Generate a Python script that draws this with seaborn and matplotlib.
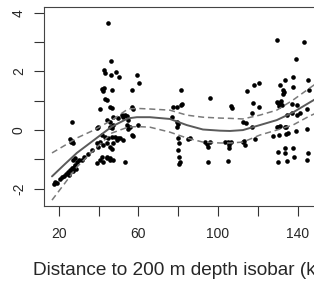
import numpy as np
import pandas as pd
import matplotlib
matplotlib.use("Agg")
import matplotlib.pyplot as plt
import seaborn as sns

# ─────────────────────────────────────────────
#  DATA
# ─────────────────────────────────────────────

# partial residuals
dist_km = [
    # shelf edge cluster
    17.5, 18.0, 19.0, 20.5, 21.5, 22.5, 23.5, 24.5, 25.0, 25.5, 26.5, 27.0,
    27.5, 28.0, 28.5, 29.0, 30.0, 31.6, 32.6, 34.6, 36.6, 27.0, 28.0,
    26.5, 25.5, 26.0, 26.5, 27.0,
    # column around 40-60 km
    44.6, 46.1, 42.6, 43.1, 46.1, 48.6, 50.2, 59.2, 60.2,
    41.6, 42.1, 42.6, 46.6, 56.7, 43.1, 44.1,
    40.6, 45.6, 46.6, 56.7, 57.2,
    44.1, 47.1, 45.6, 49.6,
    39.6, 39.1, 45.6, 46.6, 47.1,
    52.2, 54.2, 51.7, 53.2, 54.7, 54.2, 55.7, 54.7, 59.7,
    56.7, 57.2,
    41.6, 43.1, 44.6, 46.6, 48.1, 49.6, 50.7, 52.2,
    39.1, 40.6, 42.1, 44.1, 45.6, 47.1, 49.1, 39.6, 46.6,
    41.6, 44.1, 45.6,
    39.1, 40.6, 42.1, 44.1, 45.6, 47.1, 53.2,
    # middle
    81.3, 81.8, 77.3, 79.3, 81.3,
    76.8, 79.3, 79.8, 79.3,
    79.8, 80.3, 79.8, 80.3, 80.8, 80.3,
    84.8, 85.8,
    95.9,
    93.4, 94.4, 94.9, 95.9, 94.9,
    106.4, 106.9,
    103.4, 104.9, 105.4, 106.4, 104.9, 105.4,
    113.0, 114.5, 114.0, 112.5,
    112.5, 113.5, 118.5,
    # right side
    129.5, 143.1, 139.1,
    118.0, 120.5,
    131.0, 133.6, 132.6, 133.1, 132.6,
    137.6, 137.6, 145.1, 145.6,
    117.5, 120.5, 117.0,
    129.5, 130.0, 131.0, 132.0, 131.5, 130.5,
    137.1, 139.6, 144.6,
    137.1, 134.6, 139.6, 141.1,
    117.0,
    129.5, 130.0, 131.0, 133.6, 134.1,
    127.5, 130.5, 134.1, 135.1, 139.1, 144.6,
    130.0, 133.6, 133.6, 137.6, 138.1,
    130.0, 134.6, 144.6, 145.1,
]

resid = [
    -1.84, -1.77, -1.81, -1.67, -1.60, -1.57, -1.50, -1.43, -1.54, -1.37, -1.30, -1.40,
    -1.26, -1.19, -1.33, -1.10, -1.02, -1.02, -0.92, -0.82, -0.68, -1.02, -0.96,
    0.27, -0.31, -0.41, -0.36, -0.45,
    3.65, 2.35, 2.05, 1.95, 1.88, 1.98, 1.81, 1.88, 1.60,
    1.40, 1.33, 1.43, 1.37, 1.37, 1.06, 1.02,
    0.72, 0.78, 0.75, 0.78, 0.72,
    0.34, 0.44, 0.27, 0.41,
    0.10, 0.07, 0.10, 0.07, 0.17,
    0.44, 0.48, 0.51, 0.51, 0.34, 0.17, 0.10, 0.03, 0.17,
    -0.17, -0.20,
    -0.17, -0.24, -0.27, -0.24, -0.24, -0.27, -0.27, -0.34,
    -0.44, -0.41, -0.51, -0.44, -0.58, -0.44, -0.34, -0.58, -0.65,
    -0.92, -0.92, -0.96,
    -1.13, -1.02, -1.09, -0.96, -1.02, -1.02, -1.09,
    1.37, 0.89, 0.78, 0.78, 0.85,
    0.44, 0.27, 0.20, 0.10,
    -0.27, -0.44, -0.68, -0.92, -1.09, -1.16,
    -0.31, -0.27,
    1.09,
    -0.41, -0.48, -0.58, -0.41, -1.09,
    0.82, 0.75,
    -0.41, -0.41, -0.51, -0.41, -1.06, -0.61,
    -0.38, 1.33, 0.24, 0.27,
    -0.41, -0.51, -0.31,
    3.07, 3.00, 2.42,
    1.54, 1.60,
    1.54, 1.71, 1.37, 1.30, 1.23,
    1.81, 1.47, 1.71, 1.37,
    0.92, 0.78, 0.58,
    0.96, 0.92, 0.92, 0.85, 0.99, 0.82,
    0.89, 0.85, 0.72,
    0.58, 0.51, 0.51, 0.58,
    0.10,
    0.10, 0.10, 0.14, 0.10, 0.10,
    -0.20, -0.17, -0.14, -0.10, -0.03, 0.03,
    -0.75, -0.61, -0.78, -0.61, -0.92,
    -1.09, -1.06, -1.02, -0.78,
]

# fitted smooth and its confidence band
fit_x     = [16.5, 23.0, 29.0, 37.6, 46.6, 54.7, 59.2, 65.7, 75.8, 84.3,
             92.4, 101.0, 106.0, 112.5, 121.0, 129.5, 137.6, 146.0, 152.0]
fit_mid   = [-1.58, -1.16, -0.78, -0.34, 0.12, 0.40, 0.44, 0.44, 0.38, 0.17,
             0.02, -0.02, -0.03, 0.00, 0.17, 0.34, 0.60, 0.94, 1.18]
fit_upper = [-0.78, -0.52, -0.27, 0.00, 0.34, 0.72, 0.74, 0.72, 0.68, 0.51,
             0.44, 0.41, 0.40, 0.38, 0.51, 0.68, 1.02, 1.43, 1.72]
fit_lower = [-2.39, -1.81, -1.26, -0.68, -0.10, 0.10, 0.12, 0.10, -0.07, -0.27,
             -0.41, -0.44, -0.44, -0.41, -0.17, 0.00, 0.17, 0.48, 0.66]

x_ticks  = [20, 40, 60, 80, 100, 120, 140]
x_labels = ["20", "", "60", "", "100", "", "140"]
y_ticks  = [-2, -1, 0, 1, 2, 3, 4]
y_labels = ["-2", "", "0", "", "2", "", "4"]

# ─────────────────────────────────────────────
#  PLOT
# ─────────────────────────────────────────────

sns.set_style("white")
plt.rcParams["font.family"] = ["Liberation Sans", "DejaVu Sans"]
plt.rcParams["axes.unicode_minus"] = False

pts = pd.DataFrame({"x": dist_km, "y": resid})
fit = pd.DataFrame({"x": fit_x, "mid": fit_mid, "upper": fit_upper, "lower": fit_lower})

fig = plt.figure(figsize=(3.14, 2.81), dpi=100)
# plot region runs past the right edge, as in the cropped original
ax = fig.add_axes([0.140, 0.267, 0.904, 0.708])

sns.lineplot(data=fit, x="x", y="mid", ax=ax, color="#5a5a5a", linewidth=1.4)
sns.lineplot(data=fit, x="x", y="upper", ax=ax, color="#7a7a7a", linewidth=1.1, linestyle=(0, (4, 2.5)))
sns.lineplot(data=fit, x="x", y="lower", ax=ax, color="#7a7a7a", linewidth=1.1, linestyle=(0, (4, 2.5)))
sns.scatterplot(data=pts, x="x", y="y", ax=ax, color="black", s=11, linewidth=0)

ax.set_xlim(12.46, 155.2)
ax.set_ylim(-2.59, 4.20)

ax.set_xticks(x_ticks)
ax.set_xticklabels(x_labels, fontsize=10)
ax.set_yticks(y_ticks)
ax.set_yticklabels(y_labels, fontsize=10, rotation=90, va="center")
# seaborn "white" style hides the ticks, R-style plot needs them
ax.tick_params(axis="both", direction="out", length=7, width=0.8, color="#333333",
               bottom=True, left=True)
ax.tick_params(axis="x", pad=8)
ax.tick_params(axis="y", pad=6)

for sp in ax.spines.values():
    sp.set_visible(True)
    sp.set_color("#444444")
    sp.set_linewidth(0.8)

ax.set_xlabel("Distance to 200 m depth isobar (km)", fontsize=13.7, labelpad=15)
ax.set_ylabel("")

fig.savefig("out.png", dpi=100)
plt.close(fig)
